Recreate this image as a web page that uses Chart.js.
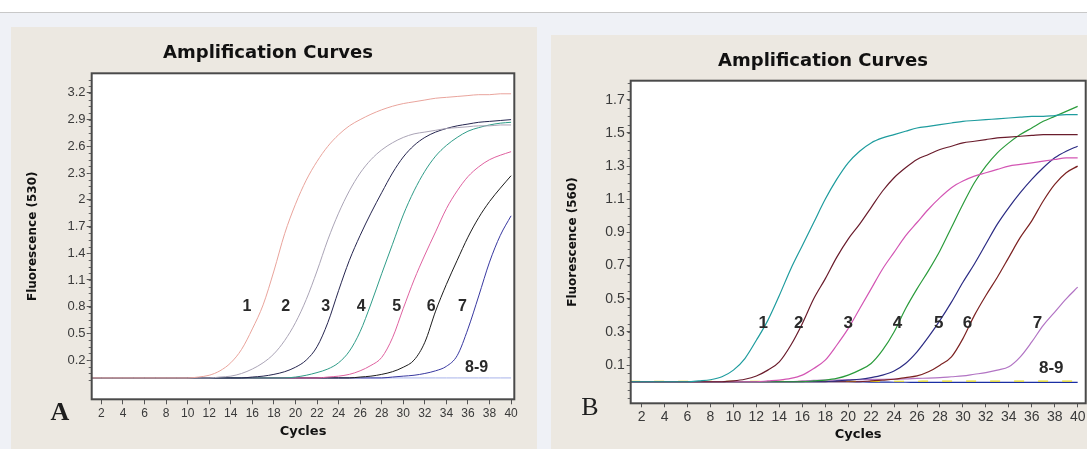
<!DOCTYPE html>
<html>
<head>
<meta charset="utf-8">
<script src="https://cdn.jsdelivr.net/npm/chart.js@4.4.1/dist/chart.umd.min.js"></script>
<style>
    body { margin: 0; width: 1087px; height: 449px; overflow: hidden; background: #eff1f6; position: relative; }
    .top { position: absolute; left: 0; top: 0; width: 1087px; height: 12px; background: #fff; border-bottom: 1px solid #c8c8c8; }
    .panel { position: absolute; background: #ece8e1; }
    .panel canvas { display: block; }
    .tag { position: absolute; font-family: "Liberation Serif", serif; font-size: 26px; line-height: 1; color: #1e1e1e; transform: translate(-50%, -50%); }
</style>
</head>
<body>
<div class="top"></div>
<div class="panel" style="left:11px;top:27px;width:526px;height:422px"><canvas id="chartA" width="526" height="422"></canvas></div>
<div class="panel" style="left:551px;top:35px;width:560px;height:414px"><canvas id="chartB" width="560" height="414"></canvas></div>
<div class="tag" style="left:60px;top:412px;font-weight:bold">A</div>
<div class="tag" style="left:590px;top:407px">B</div>

<script>
// ---- Data ----
const cycles = [1, 2, 3, 4, 5, 6, 7, 8, 9, 10, 11, 12, 13, 14, 15, 16, 17, 18, 19, 20,
    21, 22, 23, 24, 25, 26, 27, 28, 29, 30, 31, 32, 33, 34, 35, 36, 37, 38, 39, 40];
const xTicks = [2, 4, 6, 8, 10, 12, 14, 16, 18, 20, 22, 24, 26, 28, 30, 32, 34, 36, 38, 40];

// Panel A, Fluorescence (530)
const yTicksA = [0.2, 0.5, 0.8, 1.1, 1.4, 1.7, 2, 2.3, 2.6, 2.9, 3.2];
const a1 = [0, 0, 0, 0, 0, 0, 0, 0, 0, 0, 0.01, 0.03, 0.08, 0.17, 0.32, 0.55, 0.82, 1.2, 1.62, 1.95,
    2.22, 2.43, 2.6, 2.73, 2.83, 2.9, 2.96, 3.01, 3.05, 3.08, 3.1, 3.12, 3.14, 3.15, 3.16, 3.17, 3.18, 3.18, 3.19, 3.19];
const a2 = [0, 0, 0, 0, 0, 0, 0, 0, 0, 0, 0, 0, 0.01, 0.02, 0.05, 0.1, 0.17, 0.27, 0.42, 0.62,
    0.88, 1.2, 1.55, 1.85, 2.1, 2.3, 2.45, 2.56, 2.64, 2.7, 2.74, 2.76, 2.78, 2.8, 2.81, 2.82, 2.83, 2.83, 2.84, 2.84];
const a3 = [0, 0, 0, 0, 0, 0, 0, 0, 0, 0, 0, 0, 0, 0, 0, 0.01, 0.02, 0.04, 0.07, 0.12,
    0.2, 0.35, 0.62, 0.98, 1.32, 1.6, 1.85, 2.08, 2.3, 2.48, 2.61, 2.7, 2.76, 2.8, 2.83, 2.85, 2.87, 2.88, 2.89, 2.9];
const a4 = [0, 0, 0, 0, 0, 0, 0, 0, 0, 0, 0, 0, 0, 0, 0, 0, 0, 0, 0, 0.01,
    0.03, 0.06, 0.1, 0.17, 0.3, 0.52, 0.83, 1.17, 1.5, 1.83, 2.1, 2.32, 2.49, 2.61, 2.7, 2.77, 2.81, 2.84, 2.86, 2.87];
const a5 = [0, 0, 0, 0, 0, 0, 0, 0, 0, 0, 0, 0, 0, 0, 0, 0, 0, 0, 0, 0,
    0, 0, 0.01, 0.02, 0.04, 0.08, 0.14, 0.23, 0.45, 0.78, 1.1, 1.38, 1.64, 1.9, 2.1, 2.26, 2.37, 2.45, 2.5, 2.54];
const a6 = [0, 0, 0, 0, 0, 0, 0, 0, 0, 0, 0, 0, 0, 0, 0, 0, 0, 0, 0, 0,
    0, 0, 0, 0, 0, 0.01, 0.02, 0.04, 0.07, 0.12, 0.2, 0.4, 0.75, 1.05, 1.32, 1.58, 1.8, 1.98, 2.13, 2.27];
const a7 = [0, 0, 0, 0, 0, 0, 0, 0, 0, 0, 0, 0, 0, 0, 0, 0, 0, 0, 0, 0,
    0, 0, 0, 0, 0, 0, 0, 0, 0.01, 0.02, 0.03, 0.05, 0.08, 0.13, 0.25, 0.55, 0.92, 1.3, 1.6, 1.82];
const a89 = [0, 0, 0, 0, 0, 0, 0, 0, 0, 0, 0, 0, 0, 0, 0, 0, 0, 0, 0, 0,
    0, 0, 0, 0, 0, 0, 0, 0, 0, 0, 0, 0, 0, 0, 0, 0, 0, 0, 0, 0];
const seriesA = [a1, a2, a3, a4, a5, a6, a7, a89];
const colorsA = ['#e9a49c', '#aaa4b6', '#25254f', '#2f9c88', '#df62a0', '#1c1c1c', '#3838a0', '#a9b3ea'];
const labelsA = ['1', '2', '3', '4', '5', '6', '7', '8-9'];
const labelXA = [15.5, 19.1, 22.8, 26.1, 29.4, 32.6, 35.5, 36.8];
const labelYA = [0.8, 0.8, 0.8, 0.8, 0.8, 0.8, 0.8, 0.12];

// Panel B, Fluorescence (560)
const yTicksB = [0.1, 0.3, 0.5, 0.7, 0.9, 1.1, 1.3, 1.5, 1.7];
const b1 = [0, 0, 0, 0, 0, 0, 0.005, 0.012, 0.03, 0.07, 0.14, 0.25, 0.37, 0.52, 0.68, 0.82, 0.96, 1.1, 1.22, 1.32,
    1.39, 1.44, 1.47, 1.49, 1.51, 1.53, 1.54, 1.55, 1.56, 1.57, 1.575, 1.58, 1.585, 1.59, 1.595, 1.6, 1.6, 1.605, 1.61, 1.61];
const b2 = [0, 0, 0, 0, 0, 0, 0, 0, 0, 0.005, 0.015, 0.035, 0.07, 0.12, 0.22, 0.35, 0.5, 0.62, 0.75, 0.86,
    0.95, 1.05, 1.15, 1.23, 1.29, 1.34, 1.37, 1.4, 1.42, 1.44, 1.45, 1.46, 1.47, 1.475, 1.48, 1.485, 1.49, 1.49, 1.49, 1.49];
const b3 = [0, 0, 0, 0, 0, 0, 0, 0, 0, 0, 0, 0, 0.005, 0.01, 0.02, 0.04, 0.08, 0.13, 0.22, 0.32,
    0.44, 0.56, 0.68, 0.78, 0.88, 0.96, 1.04, 1.11, 1.17, 1.21, 1.24, 1.26, 1.28, 1.3, 1.31, 1.32, 1.33, 1.34, 1.35, 1.35];
const b4 = [0, 0, 0, 0, 0, 0, 0, 0, 0, 0, 0, 0, 0, 0, 0, 0, 0.005, 0.01, 0.02, 0.04,
    0.07, 0.11, 0.19, 0.3, 0.44, 0.56, 0.67, 0.79, 0.93, 1.07, 1.2, 1.3, 1.38, 1.44, 1.49, 1.53, 1.57, 1.6, 1.63, 1.66];
const b5 = [0, 0, 0, 0, 0, 0, 0, 0, 0, 0, 0, 0, 0, 0, 0, 0, 0, 0, 0.005, 0.01,
    0.015, 0.025, 0.04, 0.065, 0.11, 0.18, 0.27, 0.37, 0.48, 0.6, 0.71, 0.83, 0.95, 1.05, 1.14, 1.22, 1.29, 1.35, 1.39, 1.42];
const b6 = [0, 0, 0, 0, 0, 0, 0, 0, 0, 0, 0, 0, 0, 0, 0, 0, 0, 0, 0, 0,
    0, 0.005, 0.01, 0.015, 0.025, 0.035, 0.06, 0.1, 0.15, 0.26, 0.4, 0.52, 0.63, 0.75, 0.87, 0.97, 1.09, 1.19, 1.26, 1.3];
const b7 = [0, 0, 0, 0, 0, 0, 0, 0, 0, 0, 0, 0, 0, 0, 0, 0.005, 0.008, 0.01, 0.01, 0.012,
    0.012, 0.014, 0.015, 0.016, 0.017, 0.02, 0.022, 0.025, 0.03, 0.035, 0.045, 0.055, 0.07, 0.09, 0.15, 0.24, 0.34, 0.42, 0.5, 0.57];
const b8 = [0.002, 0.002, 0.002, 0.002, 0.002, 0.002, 0.002, 0.002, 0.002, 0.002, 0.002, 0.002, 0.002, 0.002, 0.002, 0.002, 0.002, 0.002, 0.002, 0.002,
    0.002, 0.002, 0.003, 0.003, 0.003, 0.003, 0.004, 0.004, 0.004, 0.004, 0.004, 0.004, 0.004, 0.004, 0.004, 0.004, 0.004, 0.004, 0.004, 0.004];
const b9 = [0, 0, 0, 0, 0, 0, 0, 0, 0, 0, 0, 0, 0, 0, 0, 0, 0, 0, 0, 0,
    -0.001, -0.002, -0.002, -0.003, -0.003, -0.004, -0.004, -0.004, -0.004, -0.004, -0.004, -0.004, -0.004, -0.004, -0.004, -0.004, -0.004, -0.004, -0.004, -0.004];
const seriesB = [b1, b2, b3, b4, b5, b6, b7, b8, b9];
const colorsB = ['#1e9c9e', '#6a1c2c', '#d356b4', '#2b9c3c', '#2c2c84', '#7c2222', '#b274c4', '#e6da1c', '#1a2ea4'];
const labelsB = ['1', '2', '3', '4', '5', '6', '7', '8-9'];
const labelXB = [12.6, 15.7, 20.0, 24.3, 27.9, 30.4, 36.5, 37.7];
const labelYB = [0.353, 0.353, 0.353, 0.353, 0.353, 0.353, 0.353, 0.081];

// ---- Plot frame, minor ticks and curve numbers ----
const framePlugin = {
    id: 'frame',
    beforeDraw(chart) {
        const { ctx, chartArea: a } = chart;
        ctx.save();
        ctx.fillStyle = '#fff';
        ctx.fillRect(a.left, a.top, a.width, a.height);
        ctx.restore();
    },
    afterDraw(chart, args, opts) {
        const { ctx, chartArea: a, scales: { x, y } } = chart;
        ctx.save();
        ctx.strokeStyle = '#666';
        ctx.lineWidth = 1;
        ctx.beginPath();
        for (let v = opts.minorFrom; v < y.max; v += opts.minorStep) {
            const py = Math.round(y.getPixelForValue(v)) + 0.5;
            ctx.moveTo(a.left - 3, py);
            ctx.lineTo(a.left, py);
        }
        ctx.stroke();

        ctx.strokeStyle = '#4a4a4a';
        ctx.lineWidth = 2;
        ctx.strokeRect(a.left, a.top, a.width, a.height);

        ctx.font = opts.font;
        ctx.fillStyle = '#2a2a2a';
        ctx.textAlign = 'center';
        ctx.textBaseline = 'middle';
        opts.labels.forEach((t, i) => {
            ctx.fillText(t, x.getPixelForValue(opts.labelX[i]), y.getPixelForValue(opts.labelY[i]));
        });
        ctx.restore();
    }
};

function buildChart(id, p) {
    const datasets = p.series.map((s, i) => ({
        data: s.map((v, j) => ({ x: cycles[j], y: v })),
        borderColor: p.colors[i],
        borderWidth: p.lineWidth,
        borderDash: p.dashes[i] || [],
        pointRadius: 0,
        cubicInterpolationMode: 'monotone',
        fill: false
    }));

    return new Chart(document.getElementById(id), {
        type: 'line',
        data: { datasets },
        plugins: [framePlugin],
        options: {
            responsive: false,
            animation: false,
            layout: { padding: { left: p.padLeft, right: p.padRight, top: 0, bottom: 0 } },
            plugins: {
                legend: { display: false },
                tooltip: { enabled: false },
                title: {
                    display: true,
                    text: 'Amplification Curves',
                    color: '#111',
                    font: { family: 'DejaVu Sans', size: 18, weight: 'bold', lineHeight: 1.2 },
                    padding: { top: p.titleTop, bottom: p.titleBottom }
                },
                frame: {
                    labels: p.labels, labelX: p.labelX, labelY: p.labelY,
                    font: p.labelFont, minorFrom: p.minorFrom, minorStep: p.minorStep
                }
            },
            scales: {
                x: {
                    type: 'linear',
                    min: p.xMin,
                    max: p.xMax,
                    afterBuildTicks: s => { s.ticks = xTicks.map(v => ({ value: v })); },
                    afterFit: s => { s.height = p.xHeight; },
                    border: { display: false },
                    grid: { drawOnChartArea: false, tickLength: p.tickLen, color: '#555' },
                    ticks: {
                        autoSkip: false, maxRotation: 0, padding: p.xTickPad, color: '#3a3a3a',
                        font: { family: 'Liberation Sans', size: p.xTickSize },
                        callback: v => String(v)
                    },
                    title: {
                        display: true, text: 'Cycles', color: '#111',
                        font: { family: 'DejaVu Sans', size: 13, weight: 'bold', lineHeight: 1.2 },
                        padding: { top: 0, bottom: p.xTitlePad }
                    }
                },
                y: {
                    min: p.yMin,
                    max: p.yMax,
                    afterBuildTicks: s => { s.ticks = p.yTicks.map(v => ({ value: v })); },
                    afterFit: s => { s.width = p.yWidth; },
                    border: { display: false },
                    grid: { drawOnChartArea: false, tickLength: p.tickLen, color: '#555' },
                    ticks: {
                        padding: p.yTickPad, color: '#3a3a3a',
                        font: { family: 'Liberation Sans', size: p.yTickSize },
                        callback: v => String(+v.toFixed(2))
                    },
                    title: {
                        display: true, text: p.yTitle, color: '#111',
                        font: { family: 'DejaVu Sans', size: 12, weight: 'bold', lineHeight: 1.2 },
                        padding: { top: p.yTitlePad, bottom: 0 }
                    }
                }
            }
        }
    });
}

buildChart('chartA', {
    series: seriesA, colors: colorsA, dashes: [], lineWidth: 1,
    labels: labelsA, labelX: labelXA, labelY: labelYA, labelFont: 'bold 16px "Liberation Sans"',
    yTicks: yTicksA, yTitle: 'Fluorescence (530)',
    xMin: 1.1, xMax: 40.3, yMin: -0.24, yMax: 3.42,
    padLeft: 10.7, padRight: 22.7, titleTop: 15.5, titleBottom: 9.2,
    yWidth: 70, xHeight: 49.7, tickLen: 5,
    xTickPad: 2, yTickPad: 1.2, xTickSize: 12, yTickSize: 13,
    xTitlePad: 9.5, yTitlePad: 4.1, minorFrom: -0.025, minorStep: 0.075
});

buildChart('chartB', {
    series: seriesB, colors: colorsB, dashes: [null, null, null, null, null, null, null, [10, 14], null], lineWidth: 1.2,
    labels: labelsB, labelX: labelXB, labelY: labelYB, labelFont: 'bold 17px "Liberation Sans"',
    yTicks: yTicksB, yTitle: 'Fluorescence (560)',
    xMin: 1.05, xMax: 40.7, yMin: -0.13, yMax: 1.815,
    padLeft: 9.3, padRight: 25.3, titleTop: 15.2, titleBottom: 8.9,
    yWidth: 70.4, xHeight: 45.7, tickLen: 4,
    xTickPad: 1, yTickPad: 2, xTickSize: 14, yTickSize: 14,
    xTitlePad: 6.2, yTitlePad: 5.3, minorFrom: -0.1, minorStep: 0.05
});
</script>
</body>
</html>
